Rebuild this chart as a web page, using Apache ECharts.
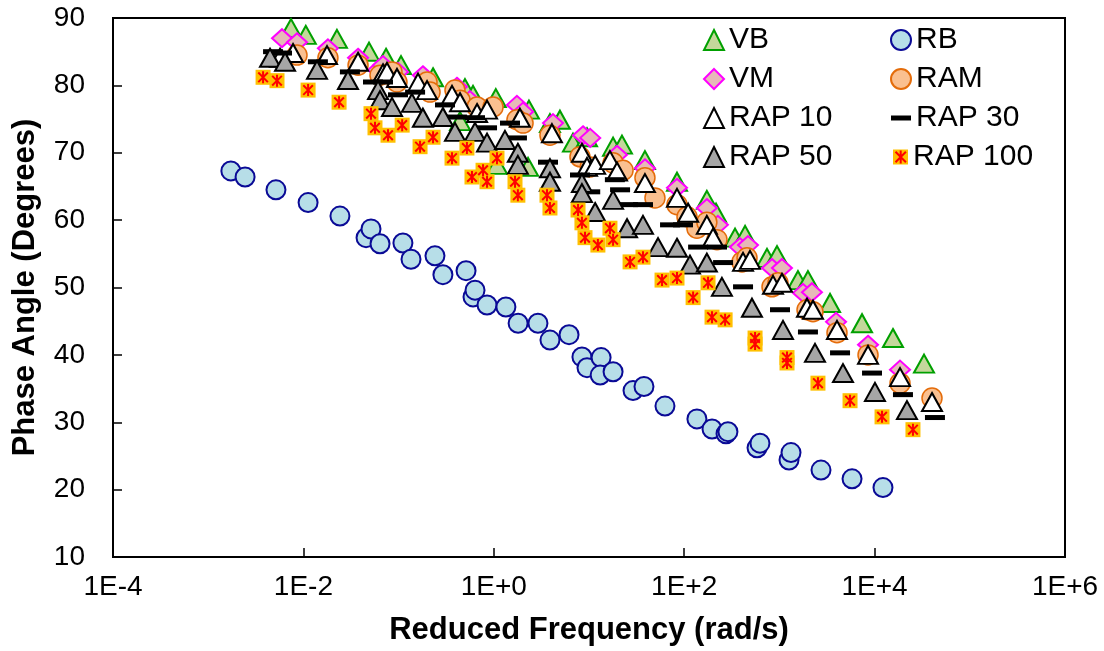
<!DOCTYPE html>
<html><head><meta charset="utf-8">
<script src="https://cdn.jsdelivr.net/npm/echarts@6/dist/echarts.min.js"></script>
<style>html,body{margin:0;padding:0;background:#fff}#c{width:1104px;height:651px}</style>
</head><body><div id="c"></div>
<script>
// x tick labels (reduced frequency decades) and y range
const xTickLabels = ['1E-4','1E-2','1E+0','1E+2','1E+4','1E+6'];
const yTicks = [10,20,30,40,50,60,70,80,90];

// [reduced frequency (rad/s), phase angle (degrees)]
const VB = [[0.00741,88.5],[0.0106,87.5],[0.0225,86.9],[0.0489,85.0],[0.0738,84.1],[0.106,83.0],[0.230,81.2],[0.442,74.7],[0.498,79.6],[0.605,78.6],[1.05,78.1],[1.08,68.2],[2.29,67.9],[2.34,76.4],[3.89,74.4],[4.95,74.9],[6.79,71.5],[9.53,72.3],[17.9,70.9],[22.2,71.2],[38.7,68.9],[84.0,65.7],[173,63.0],[216,61.1],[342,57.4],[436,57.8],[741,54.4],[944,54.8],[1567,51.1],[1995,51.1],[3404,47.7],[7379,44.7],[15600,42.5],[33040,38.7]];
const RB = [[0.00173,67.3],[0.00244,66.4],[0.00515,64.5],[0.0112,62.6],[0.0242,60.6],[0.0455,57.4],[0.0513,58.7],[0.0638,56.5],[0.111,56.6],[0.135,54.2],[0.241,54.7],[0.292,51.9],[0.511,52.5],[0.605,48.6],[0.635,49.6],[0.849,47.4],[1.34,47.1],[1.80,44.7],[2.91,44.7],[3.89,42.2],[6.17,43.0],[8.43,39.7],[9.53,38.1],[13.4,39.6],[13.1,37.0],[17.9,37.5],[29.0,34.7],[37.8,35.3],[62.8,32.4],[136,30.5],[196,29.0],[275,28.3],[288,28.6],[582,26.2],[625,26.9],[1262,24.4],[1324,25.5],[2735,22.9],[5794,21.6],[12246,20.3]];
const VM = [[0.00596,87.0],[0.00857,86.4],[0.0181,85.5],[0.0375,84.1],[0.0608,82.3],[0.0686,83.0],[0.0986,82.0],[0.180,81.5],[0.410,79.8],[0.562,77.8],[1.75,77.1],[2.03,76.1],[4.19,74.4],[8.65,72.6],[10.3,72.2],[19.7,69.7],[38.7,67.7],[84.0,64.8],[173,61.8],[226,59.3],[385,56.0],[468,56.3],[836,52.9],[1064,52.9],[1770,49.2],[2198,49.3],[3936,44.9],[8531,41.5],[18490,37.8]];
const RAM = [[0.00857,84.5],[0.0181,84.1],[0.0375,83.0],[0.0638,81.5],[0.0853,82.0],[0.0962,80.5],[0.199,80.5],[0.214,79.0],[0.391,79.3],[0.442,77.8],[0.667,76.8],[0.982,76.8],[1.75,74.9],[2.03,74.4],[3.89,72.6],[8.04,69.4],[10.3,67.9],[17.9,68.5],[22.8,67.4],[38.7,66.3],[49.3,63.3],[84.0,62.3],[107,60.5],[136,58.8],[173,59.7],[221,57.1],[405,53.8],[457,54.4],[836,50.1],[966,50.7],[1950,46.7],[2254,46.4],[4027,43.3],[8531,40.0],[18490,35.8],[40090,33.6]];
const RAP10 = [[0.00568,84.1],[0.00778,84.8],[0.0177,84.5],[0.0375,83.5],[0.0686,81.8],[0.0755,82.0],[0.0962,81.1],[0.160,80.4],[0.199,79.3],[0.364,78.6],[0.442,77.5],[0.667,75.9],[0.849,76.4],[1.88,75.2],[4.08,72.9],[8.43,70.0],[9.53,67.9],[11.6,68.2],[16.6,68.9],[19.7,67.2],[38.7,65.5],[84.0,63.3],[110,61.1],[173,59.3],[201,57.4],[415,53.8],[491,54.1],[857,50.4],[1064,50.7],[1950,47.0],[2254,46.7],[4027,43.7],[8531,40.0],[18490,36.7],[40090,33.0]];
const RAP30 = [[0.00480,85.0],[0.00596,84.8],[0.0142,83.5],[0.0308,82.0],[0.0538,80.5],[0.0686,80.5],[0.0986,78.6],[0.149,79.0],[0.307,77.1],[0.410,75.3],[0.635,75.2],[0.849,73.7],[1.48,74.4],[1.75,72.2],[3.71,68.6],[8.04,66.7],[10.3,64.2],[18.7,66.0],[21.2,64.5],[25.7,62.3],[36.9,62.3],[71.0,59.3],[97.1,59.3],[140,56.0],[221,56.0],[256,53.7],[415,50.1],[1014,46.7],[1995,43.4],[4335,40.3],[9397,37.3],[19860,34.1],[43050,30.7]];
const RAP50 = [[0.00446,84.1],[0.00642,83.5],[0.0139,82.3],[0.0294,80.8],[0.0608,79.3],[0.0638,77.8],[0.0853,76.8],[0.138,77.4],[0.180,75.2],[0.292,75.3],[0.391,73.1],[0.635,73.1],[0.849,71.5],[1.31,71.9],[1.79,70.0],[1.79,68.2],[3.89,67.7],[3.89,65.7],[8.43,65.5],[8.43,64.0],[11.6,61.2],[17.9,63.0],[25.1,58.8],[36.9,59.3],[53.1,56.0],[84.0,55.9],[115,53.4],[173,53.7],[249,50.1],[515,47.0],[1091,43.7],[2366,40.3],[4656,37.3],[10090,34.5],[21880,31.8]];
const RAP100 = [[0.00377,81.2],[0.00528,80.7],[0.0112,79.3],[0.0237,77.5],[0.0513,75.8],[0.0565,73.7],[0.0774,72.6],[0.109,74.1],[0.168,70.9],[0.230,72.3],[0.364,69.2],[0.522,70.7],[0.590,66.4],[0.771,67.4],[0.849,65.7],[1.08,69.2],[1.67,65.7],[1.79,63.7],[3.62,63.7],[3.89,61.8],[7.67,61.5],[8.43,59.6],[9.08,57.4],[12.4,56.3],[16.6,58.8],[17.9,57.1],[27.0,53.8],[36.9,54.5],[58.5,51.1],[84.0,51.4],[124,48.5],[178,50.7],[196,45.6],[269,45.2],[555,42.5],[555,41.6],[1202,39.6],[1202,38.8],[2541,35.8],[5521,33.2],[11970,30.8],[25290,28.9]];

const FONT = '"Liberation Sans", Arial, sans-serif';
const TRI = [20, 18];
const STAR = 'path://M5,0V10M1,1L9,9M9,1L1,9';
const DASH_ICON = 'path://M0,0H20V5H0Z';

const chart = echarts.init(document.getElementById('c'), null, {renderer: 'canvas'});
const legendText = {fontFamily: FONT, fontSize: 30, color: '#000'};
chart.setOption({
  animation: false,
  backgroundColor: '#fff',
  grid: {left: 113, right: 39, top: 18, bottom: 94, show: true, borderColor: '#000', borderWidth: 2},
  xAxis: {
    type: 'log', logBase: 10, min: 1e-4, max: 1e6, interval: 2,
    name: 'Reduced Frequency (rad/s)', nameLocation: 'middle', nameGap: 58,
    nameTextStyle: {fontFamily: FONT, fontSize: 31, fontWeight: 'bold', color: '#000'},
    axisLine: {lineStyle: {color: '#000', width: 2}},
    axisTick: {inside: true, length: 9, lineStyle: {color: '#000', width: 1.5}},
    minorTick: {show: false},
    splitLine: {show: false},
    axisLabel: {fontFamily: FONT, fontSize: 28, color: '#000', margin: 16,
      formatter: v => xTickLabels[Math.round((Math.log10(v) + 4) / 2)] || ''}
  },
  yAxis: {
    type: 'value', min: yTicks[0], max: yTicks[yTicks.length - 1], interval: 10,
    name: 'Phase Angle (Degrees)', nameLocation: 'middle', nameRotate: 90, nameGap: 72,
    nameTextStyle: {fontFamily: FONT, fontSize: 31, fontWeight: 'bold', color: '#000'},
    axisLine: {show: true, lineStyle: {color: '#000', width: 2}},
    axisTick: {show: true, inside: true, length: 9, lineStyle: {color: '#000', width: 1.5}},
    splitLine: {show: false},
    axisLabel: {fontFamily: FONT, fontSize: 28, color: '#000', margin: 28}
  },
  legend: [
    {data: ['VB', 'VM', 'RAP 10', 'RAP 50'], orient: 'vertical', left: 703, top: 25, padding: 0,
     itemWidth: 20, itemHeight: 20, itemGap: 9, textStyle: legendText, selectedMode: false},
    {data: ['RB', 'RAM', {name: 'RAP 30', icon: DASH_ICON}], orient: 'vertical', left: 890, top: 25, padding: 0,
     itemWidth: 20, itemHeight: 20, itemGap: 9, textStyle: legendText, selectedMode: false},
    {data: ['RAP 100'], orient: 'vertical', left: 893, top: 142, padding: 0,
     itemWidth: 15, itemHeight: 15, textStyle: legendText, selectedMode: false},
    {data: ['RAP 100 marker'], orient: 'vertical', left: 894.5, top: 142, padding: 0,
     itemWidth: 12, itemHeight: 13, textStyle: legendText, selectedMode: false, formatter: () => ' '}
  ],
  series: [
    {name: 'VB', type: 'scatter', data: VB, symbol: 'triangle', symbolSize: TRI,
     itemStyle: {color: '#c4d79b', borderColor: '#00a000', borderWidth: 2, opacity: 1}},
    {name: 'RB', type: 'scatter', data: RB, symbol: 'circle', symbolSize: 19,
     itemStyle: {color: '#b7dee8', borderColor: '#0a0a96', borderWidth: 2, opacity: 1}},
    {name: 'VM', type: 'scatter', data: VM, symbol: 'diamond', symbolSize: [20, 18],
     itemStyle: {color: '#e6b9b8', borderColor: '#ff00ff', borderWidth: 2, opacity: 1}},
    {name: 'RAM', type: 'scatter', data: RAM, symbol: 'circle', symbolSize: 20,
     itemStyle: {color: '#fac090', borderColor: '#e46c0a', borderWidth: 1.5, opacity: 1}},
    {name: 'RAP 10', type: 'scatter', data: RAP10, symbol: 'triangle', symbolSize: TRI,
     itemStyle: {color: '#ffffff', borderColor: '#000', borderWidth: 2, opacity: 1}},
    {name: 'RAP 30', type: 'scatter', data: RAP30, symbol: 'rect', symbolSize: [20, 5],
     itemStyle: {color: '#000', opacity: 1}},
    {name: 'RAP 50', type: 'scatter', data: RAP50, symbol: 'triangle', symbolSize: TRI,
     itemStyle: {color: '#a6a6a6', borderColor: '#000', borderWidth: 2, opacity: 1}},
    {name: 'RAP 100', type: 'scatter', data: RAP100, symbol: 'rect', symbolSize: 15,
     itemStyle: {color: '#ffc000', opacity: 1}},
    {name: 'RAP 100 marker', type: 'scatter', data: RAP100, symbol: STAR, symbolSize: 12, symbolKeepAspect: true,
     itemStyle: {color: 'transparent', borderColor: '#ff0000', borderWidth: 2, opacity: 1}}
  ]
});
</script>
</body></html>
